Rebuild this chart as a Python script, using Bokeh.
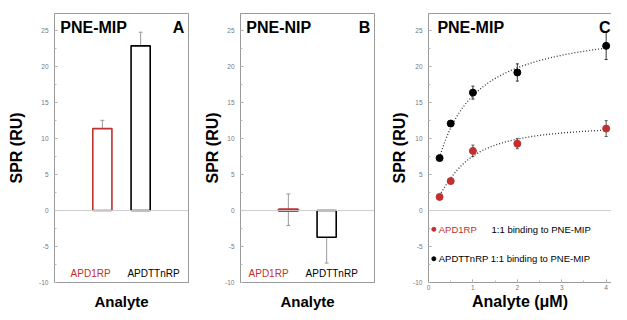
import numpy as np
from bokeh.plotting import figure
from bokeh.layouts import row
from bokeh.models import (Range1d, Span, Whisker, TeeHead, ColumnDataSource,
                          LinearAxis, FixedTicker, SingleIntervalTicker)
from bokeh.core.properties import value
from bokeh.embed import file_html
from bokeh.resources import INLINE

# ---------------- data ----------------
analytes = ["APD1RP", "APDTTnRP"]
a_values = [11.4, 22.9]          # PNE-MIP response (RU)
a_errors = [1.15, 1.9]
b_values = [0.12, -3.7]          # PNE-NIP response (RU)
b_err_low = [2.2, 3.6]
b_err_high = [2.2, 0.0]
conc = [0.25, 0.5, 1, 2, 4]      # analyte concentration (uM)
c_apd1 = [1.9, 4.1, 8.3, 9.3, 11.4]
c_apd1_err = [0.2, 0.3, 0.8, 0.7, 1.1]
c_apdtt = [7.3, 12.1, 16.4, 19.2, 22.9]
c_apdtt_err = [0.3, 0.4, 0.9, 1.2, 1.9]
fit_apd1 = {"rmax": 12.0, "k": 0.70, "n": 1.5}   # fitted binding model
fit_apdtt = {"rmax": 26.2, "k": 0.64, "n": 1.0}
y_tick_labels = ["-10", "-5", "0", "5", "10", "15", "20", "25"]

RED = "#c0302e"
GREY = "#9a9a9a"
FONT = "Liberation Sans"
analyte_colors = [RED, "black"]


def base_fig(width, left, right, x_range, label_standoff):
    p = figure(width=width, height=312, x_range=x_range, y_range=Range1d(-10, 27.4),
               output_backend="svg", toolbar_location=None, title=None,
               min_border_left=left, min_border_right=right,
               min_border_top=13, min_border_bottom=28)
    p.grid.visible = False
    p.outline_line_color = GREY
    p.background_fill_color = "white"
    p.border_fill_color = "white"
    ya = p.left[0]
    ya.ticker = SingleIntervalTicker(interval=5, num_minor_ticks=2)
    ya.major_label_overrides = {float(t): t for t in y_tick_labels}
    ya.major_label_text_font_size = "6.5px"
    ya.major_label_text_color = "#777777"
    ya.major_label_text_font = FONT
    ya.major_label_standoff = 6
    ya.axis_line_color = GREY
    ya.major_tick_line_color = GREY
    ya.minor_tick_line_color = "#bbbbbb"
    ya.major_tick_in = 3
    ya.major_tick_out = 0
    ya.minor_tick_in = 2
    ya.minor_tick_out = 0
    ya.axis_label = "SPR (RU)"
    ya.axis_label_text_font = FONT
    ya.axis_label_text_font_style = "bold"
    ya.axis_label_text_font_size = "16px"
    ya.axis_label_text_color = "black"
    ya.axis_label_standoff = label_standoff
    xa = p.below[0]
    xa.axis_line_color = GREY
    xa.axis_label_text_font = FONT
    xa.axis_label_text_font_style = "bold"
    xa.axis_label_text_color = "black"
    xa.major_tick_out = 0
    xa.minor_tick_out = 0
    p.add_layout(Span(location=0, dimension="width", line_color="#cccccc", line_width=1))
    return p


def bar_panel(width, left, right, vals, lo, hi, title, letter, label_x, label_standoff,
              thin_first=False):
    p = base_fig(width, left, right, Range1d(0, 7), label_standoff)
    xa = p.below[0]
    xa.ticker = FixedTicker(ticks=[])
    xa.major_label_standoff = 0
    xa.axis_label = "Analyte"
    xa.axis_label_text_font_size = "15px"
    xa.axis_label_standoff = 10
    bar_x = [2.5, 4.5]
    src = ColumnDataSource(dict(x=bar_x, top=vals, bottom=[0, 0],
                                color=analyte_colors,
                                fill=["white", "white"] if not thin_first else [RED, "white"],
                                lw=[1.6, 1.6] if not thin_first else [3, 1.6],
                                lower=[v - e for v, e in zip(vals, lo)],
                                upper=[v + e for v, e in zip(vals, hi)]))
    p.vbar(x="x", top="top", bottom="bottom", width=1.0, source=src,
           fill_color="fill", line_color="color", line_width="lw")
    w = Whisker(base="x", lower="lower", upper="upper", source=src,
                line_color=GREY, line_width=1,
                upper_head=TeeHead(size=4, line_color=GREY, line_width=1),
                lower_head=TeeHead(size=4, line_color=GREY, line_width=1))
    p.add_layout(w)
    p.text(x=label_x, y=[-8.7, -8.7], text=analytes, text_color=analyte_colors,
           text_font=value(FONT), text_font_size="10px", text_baseline="middle",
           text_align="left")
    p.text(x=[0.3], y=[25.5], text=[title], text_font=value(FONT),
           text_font_style="bold", text_font_size="16px", text_baseline="middle")
    p.text(x=[6.78], y=[25.5], text=[letter], text_font=value(FONT),
           text_font_style="bold", text_font_size="16px", text_baseline="middle",
           text_align="right")
    return p


pA = bar_panel(192, 54, 4, a_values, a_errors, a_errors, "PNE-MIP", "A",
               [0.84, 3.81], 11)
pB = bar_panel(190, 48, 8, b_values, b_err_low, b_err_high, "PNE-NIP", "B",
               [0.42, 3.4], 1, thin_first=True)

# ---------------- panel C ----------------
pC = base_fig(229, 46, 0, Range1d(0, 4.12), 2)
pC.outline_line_color = None
pC.add_layout(LinearAxis(ticker=FixedTicker(ticks=[]), axis_line_color=GREY,
                         major_label_text_font_size="0px"), "above")
xa = pC.below[0]
xa.ticker = SingleIntervalTicker(interval=1, num_minor_ticks=2)
xa.major_label_text_font_size = "6.5px"
xa.major_label_text_color = "#777777"
xa.major_label_text_font = FONT
xa.major_label_standoff = 2
xa.major_tick_line_color = GREY
xa.minor_tick_line_color = "#bbbbbb"
xa.major_tick_in = 3
xa.minor_tick_in = 2
xa.axis_label = "Analyte (\u03bcM)"
xa.axis_label_text_font_size = "16px"
xa.axis_label_standoff = 0


def model(xs, prm):
    xs = np.asarray(xs, dtype=float)
    return prm["rmax"] * xs ** prm["n"] / (prm["k"] ** prm["n"] + xs ** prm["n"])


xfit = np.linspace(conc[0], conc[-1], 200)
for prm in (fit_apdtt, fit_apd1):
    pC.line(xfit, model(xfit, prm), line_color="#333333", line_width=1.3,
            line_dash="1 2")

for ys, errs, col, ecol in ((c_apdtt, c_apdtt_err, "black", "#333333"),
                            (c_apd1, c_apd1_err, RED, "#555555")):
    s = ColumnDataSource(dict(x=conc, y=ys,
                              lower=[a - b for a, b in zip(ys, errs)],
                              upper=[a + b for a, b in zip(ys, errs)]))
    pC.add_layout(Whisker(base="x", lower="lower", upper="upper", source=s,
                          line_color=ecol, line_width=1,
                          upper_head=TeeHead(size=3, line_color=ecol),
                          lower_head=TeeHead(size=3, line_color=ecol)))
    pC.scatter("x", "y", source=s, size=7, fill_color=col, line_color=col)

# legend (drawn as text)
pC.scatter([0.12, 0.12], [-2.6, -6.7], size=4, fill_color=[RED, "black"],
           line_color=[RED, "black"])
pC.text(x=[0.23, 1.42, 0.23], y=[-2.6, -2.6, -6.7],
        text=["APD1RP", "1:1 binding to PNE-MIP", "APDTTnRP 1:1 binding to PNE-MIP"],
        text_color=[RED, "black", "black"], text_font=value(FONT),
        text_font_size="9.5px", text_baseline="middle")
pC.text(x=[0.2], y=[25.5], text=["PNE-MIP"], text_font=value(FONT),
        text_font_style="bold", text_font_size="16px", text_baseline="middle")
pC.text(x=[4.1], y=[25.5], text=["C"], text_font=value(FONT),
        text_font_style="bold", text_font_size="16px", text_baseline="middle",
        text_align="right")

layout = row(pA, pB, pC)
open("out.html", "w").write(file_html(layout, INLINE))
